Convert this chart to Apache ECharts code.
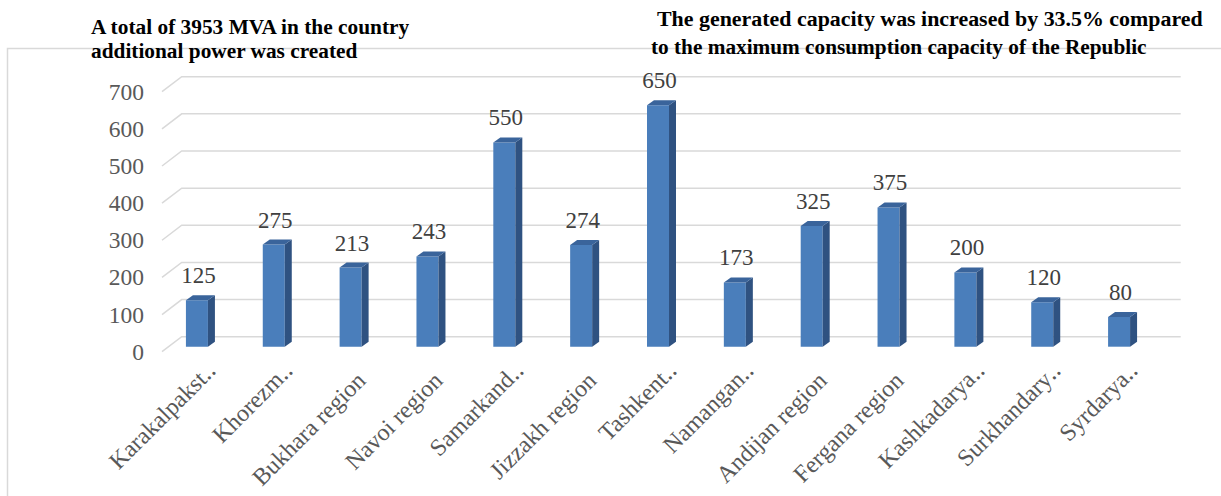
<!DOCTYPE html>
<html><head><meta charset="utf-8">
<script src="https://cdn.jsdelivr.net/npm/echarts@6/dist/echarts.min.js"></script>
<style>html,body{margin:0;padding:0;background:#fff}#c{width:1221px;height:496px}</style>
</head><body><div id="c"></div>
<script>
const categories = ['Karakalpakst‥','Khorezm‥','Bukhara region','Navoi region','Samarkand‥','Jizzakh region','Tashkent‥','Namangan‥','Andijan region','Fergana region','Kashkadarya‥','Surkhandary‥','Syrdarya‥'];
const values = [125, 275, 213, 243, 550, 274, 650, 173, 325, 375, 200, 120, 80];
const yTicks = [0, 100, 200, 300, 400, 500, 600, 700];
const titleLeft = ['A total of 3953 MVA in the country', 'additional power was created'];
const titleRight = ['The generated capacity was increased by 33.5% compared', 'to the maximum consumption capacity of the Republic'];

const FONT = '"Liberation Serif", "Times New Roman", serif';
const DX = 19.7, DY = 15;
const FRONT = '#4a7ebb', SIDE = '#2f5281', TOP = '#3a649b';
const LABEL_COLOR = '#595959';

const mctx = document.createElement('canvas').getContext('2d');
function fitScale(text, font, target) { mctx.font = font; return target / mctx.measureText(text).width; }
const LF = 'bold 21px ' + FONT, RF = 'bold 21px ' + FONT;
function titleText(text, font, x, y, w) {
  return { type: 'text', x: x, y: y, scaleX: fitScale(text, font, w), z: 10,
    style: { text: text, font: font, fill: '#000', align: 'left', verticalAlign: 'middle' } };
}

const chart = echarts.init(document.getElementById('c'), null, { renderer: 'svg' });
chart.setOption({
  animation: false,
  backgroundColor: '#fff',
  grid: { left: 162, right: 60, top: 91.7, bottom: 144.3, containLabel: false },
  xAxis: { type: 'category', data: categories, boundaryGap: true,
    axisTick: { show: false }, axisLine: { show: false }, splitLine: { show: false },
    axisLabel: { show: false } },
  yAxis: { type: 'value', min: 0, max: 700, interval: 100,
    axisLine: { show: false }, axisTick: { show: false }, splitLine: { show: false },
    axisLabel: { margin: 18, fontSize: 23.5, fontFamily: FONT, color: LABEL_COLOR } },
  graphic: [
    { type: 'rect', shape: { x: 7.5, y: 48.5, width: 1240, height: 470 }, z: 0,
      style: { fill: 'none', stroke: '#d9d9d9', lineWidth: 1.5 } },
    titleText(titleLeft[0], LF, 91, 27.2, 321),
    titleText(titleLeft[1], LF, 91, 50.6, 267),
    titleText(titleRight[0], RF, 657, 18.9, 546),
    titleText(titleRight[1], RF, 651, 46.9, 496)
  ],
  series: [
    { type: 'custom', silent: true, clip: false, z: 1,
      data: yTicks.map(v => [0, v]),
      encode: { x: 0, y: 1 },
      renderItem: function (params, api) {
        const y = api.coord([0, api.value(1)])[1];
        const cs = params.coordSys;
        const x0 = cs.x, x1 = cs.x + cs.width;
        return { type: 'polyline', shape: { points: [[x0, y], [x0 + DX, y - DY], [x1 + DX, y - DY]] },
          style: { stroke: '#d9d9d9', lineWidth: 1.5, fill: null } };
      } },
    { type: 'custom', silent: true, clip: false, z: 2,
      data: values.map((v, i) => [i, v]),
      encode: { x: 0, y: 1 },
      renderItem: function (params, api) {
        const i = api.value(0), v = api.value(1);
        const t = api.coord([i, v]), b = api.coord([i, 0]);
        const cx = t[0];
        const xl = cx - 14.5, xr = xl + 22;
        const yt = t[1] - 5, yb = b[1] - 5;
        const bx = 7, by = 5;
        return { type: 'group', children: [
          { type: 'rect', shape: { x: xl, y: yt, width: xr - xl, height: yb - yt }, style: { fill: FRONT } },
          { type: 'polygon', shape: { points: [[xr, yt], [xr + bx, yt - by], [xr + bx, yb - by], [xr, yb]] }, style: { fill: SIDE } },
          { type: 'polygon', shape: { points: [[xl, yt], [xr, yt], [xr + bx, yt - by], [xl + bx, yt - by]] }, style: { fill: TOP } },
          { type: 'text', x: cx - 2, y: yt - by - 8,
            style: { text: String(v), fill: '#404040', font: '23px ' + FONT, align: 'center', verticalAlign: 'bottom' } }
        ] };
      } },
    { type: 'custom', silent: true, clip: false, z: 3,
      data: categories.map((c, i) => [i, 0]),
      encode: { x: 0, y: 1 },
      renderItem: function (params, api) {
        const i = api.value(0);
        const p = api.coord([i, 0]);
        const name = categories[i];
        const trunc = name.slice(-1) === '‥';
        const ox = trunc ? 11.3 : 7.3, oy = trunc ? 14.6 : 24.6;
        return { type: 'text', x: p[0] + ox, y: p[1] + oy, rotation: Math.PI / 4,
          style: { text: name, font: '24px ' + FONT, fill: LABEL_COLOR, align: 'right', verticalAlign: 'middle' } };
      } }
  ]
});
</script></body></html>
